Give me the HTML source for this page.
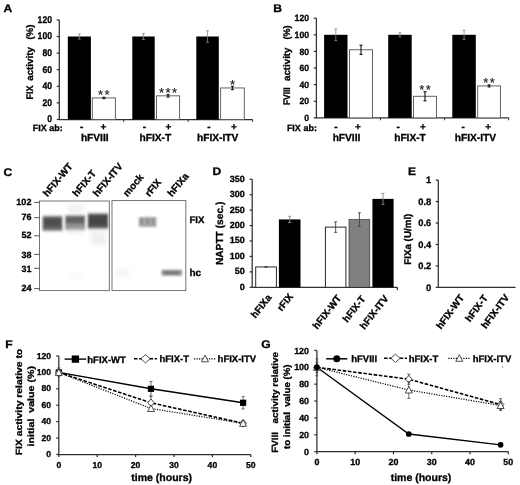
<!DOCTYPE html>
<html><head><meta charset="utf-8"><title>Figure</title>
<style>
html,body{margin:0;padding:0;background:#fff;overflow:hidden;}
svg{display:block;will-change:transform;}
text{font-family:"Liberation Sans",sans-serif;font-weight:bold;fill:#000;stroke:#000;stroke-width:0.3px;text-rendering:geometricPrecision;}
</style></head><body>
<svg width="520" height="485" viewBox="0 0 520 485">
<rect x="0" y="0" width="520" height="485" fill="#fff"/>
<text x="0" y="0" font-size="11" stroke="#000" stroke-width="0.3" transform="translate(3.6 12.1) scale(1.1 1)">A</text>
<line x1="59.3" y1="19.900000000000006" x2="59.3" y2="120.0" stroke="#303030" stroke-width="1.25" />
<line x1="59.3" y1="119.5" x2="252.6" y2="119.5" stroke="#303030" stroke-width="1.25" />
<line x1="56.699999999999996" y1="119.5" x2="59.3" y2="119.5" stroke="#303030" stroke-width="1.25" />
<text x="0" y="0" font-size="9.7" text-anchor="end" transform="translate(52 122.4) scale(0.89 1)" >0</text>
<line x1="56.699999999999996" y1="102.9" x2="59.3" y2="102.9" stroke="#303030" stroke-width="1.25" />
<text x="0" y="0" font-size="9.7" text-anchor="end" transform="translate(52 105.8) scale(0.89 1)" >20</text>
<line x1="56.699999999999996" y1="86.30000000000001" x2="59.3" y2="86.30000000000001" stroke="#303030" stroke-width="1.25" />
<text x="0" y="0" font-size="9.7" text-anchor="end" transform="translate(52 89.2) scale(0.89 1)" >40</text>
<line x1="56.699999999999996" y1="69.7" x2="59.3" y2="69.7" stroke="#303030" stroke-width="1.25" />
<text x="0" y="0" font-size="9.7" text-anchor="end" transform="translate(52 72.6) scale(0.89 1)" >60</text>
<line x1="56.699999999999996" y1="53.10000000000001" x2="59.3" y2="53.10000000000001" stroke="#303030" stroke-width="1.25" />
<text x="0" y="0" font-size="9.7" text-anchor="end" transform="translate(52 56.0) scale(0.89 1)" >80</text>
<line x1="56.699999999999996" y1="36.5" x2="59.3" y2="36.5" stroke="#303030" stroke-width="1.25" />
<text x="0" y="0" font-size="9.7" text-anchor="end" transform="translate(52 39.4) scale(0.89 1)" >100</text>
<line x1="56.699999999999996" y1="19.900000000000006" x2="59.3" y2="19.900000000000006" stroke="#303030" stroke-width="1.25" />
<text x="0" y="0" font-size="9.7" text-anchor="end" transform="translate(52 22.8) scale(0.89 1)" >120</text>
<line x1="123.73333333333333" y1="119.5" x2="123.73333333333333" y2="121.9" stroke="#303030" stroke-width="1" />
<rect x="67.80" y="36.50" width="23.10" height="83.00" fill="#000" stroke="none" stroke-width="0" />
<line x1="79.35" y1="34.010000000000005" x2="79.35" y2="38.99000000000001" stroke="#8a8a8a" stroke-width="0.8" />
<line x1="77.85" y1="34.010000000000005" x2="80.85" y2="34.010000000000005" stroke="#8a8a8a" stroke-width="0.8" />
<line x1="77.85" y1="38.99000000000001" x2="80.85" y2="38.99000000000001" stroke="#8a8a8a" stroke-width="0.8" />
<rect x="92.30" y="97.92" width="23.10" height="21.58" fill="#fff" stroke="#5c5c5c" stroke-width="0.95" />
<line x1="103.85" y1="97.256" x2="103.85" y2="98.584" stroke="#111" stroke-width="1.1" />
<line x1="102.35" y1="97.256" x2="105.35" y2="97.256" stroke="#111" stroke-width="1.1" />
<line x1="102.35" y1="98.584" x2="105.35" y2="98.584" stroke="#111" stroke-width="1.1" />
<text x="104.55" y="99.456" font-size="13" text-anchor="middle" style="font-weight:normal;fill:#222;stroke:#222;stroke-width:0.15px" letter-spacing="1.4">**</text>
<text x="81.6" y="130" font-size="10" text-anchor="middle" >-</text>
<text x="103.5" y="130" font-size="10" text-anchor="middle" >+</text>
<text x="94.75" y="140.5" font-size="10.2" text-anchor="middle" >hFVIII</text>
<line x1="188.16666666666669" y1="119.5" x2="188.16666666666669" y2="121.9" stroke="#303030" stroke-width="1" />
<rect x="132.30" y="36.50" width="22.40" height="83.00" fill="#000" stroke="none" stroke-width="0" />
<line x1="143.5" y1="33.595" x2="143.5" y2="39.405" stroke="#8a8a8a" stroke-width="0.8" />
<line x1="142.0" y1="33.595" x2="145.0" y2="33.595" stroke="#8a8a8a" stroke-width="0.8" />
<line x1="142.0" y1="39.405" x2="145.0" y2="39.405" stroke="#8a8a8a" stroke-width="0.8" />
<rect x="156.50" y="95.84" width="23.10" height="23.65" fill="#fff" stroke="#5c5c5c" stroke-width="0.95" />
<line x1="168.05" y1="94.6" x2="168.05" y2="97.09" stroke="#111" stroke-width="1.1" />
<line x1="166.55" y1="94.6" x2="169.55" y2="94.6" stroke="#111" stroke-width="1.1" />
<line x1="166.55" y1="97.09" x2="169.55" y2="97.09" stroke="#111" stroke-width="1.1" />
<text x="168.75" y="96.8" font-size="13" text-anchor="middle" style="font-weight:normal;fill:#222;stroke:#222;stroke-width:0.15px" letter-spacing="1.4">***</text>
<text x="144.3" y="130" font-size="10" text-anchor="middle" >-</text>
<text x="168.5" y="130" font-size="10" text-anchor="middle" >+</text>
<text x="155.35" y="140.5" font-size="10.2" text-anchor="middle" >hFIX-T</text>
<line x1="252.60000000000002" y1="119.5" x2="252.60000000000002" y2="121.9" stroke="#303030" stroke-width="1" />
<rect x="196.30" y="36.50" width="22.50" height="83.00" fill="#000" stroke="none" stroke-width="0" />
<line x1="207.55" y1="30.689999999999998" x2="207.55" y2="42.31" stroke="#8a8a8a" stroke-width="0.8" />
<line x1="206.05" y1="30.689999999999998" x2="209.05" y2="30.689999999999998" stroke="#8a8a8a" stroke-width="0.8" />
<line x1="206.05" y1="42.31" x2="209.05" y2="42.31" stroke="#8a8a8a" stroke-width="0.8" />
<rect x="220.60" y="87.96" width="23.70" height="31.54" fill="#fff" stroke="#5c5c5c" stroke-width="0.95" />
<line x1="232.45" y1="86.30000000000001" x2="232.45" y2="89.62" stroke="#111" stroke-width="1.1" />
<line x1="230.95" y1="86.30000000000001" x2="233.95" y2="86.30000000000001" stroke="#111" stroke-width="1.1" />
<line x1="230.95" y1="89.62" x2="233.95" y2="89.62" stroke="#111" stroke-width="1.1" />
<text x="233.14999999999998" y="88.50000000000001" font-size="13" text-anchor="middle" style="font-weight:normal;fill:#222;stroke:#222;stroke-width:0.15px" letter-spacing="1.4">*</text>
<text x="208.9" y="130" font-size="10" text-anchor="middle" >-</text>
<text x="233.8" y="130" font-size="10" text-anchor="middle" >+</text>
<text x="217.7" y="140.5" font-size="10.2" text-anchor="middle" >hFIX-ITV</text>
<text x="62.7" y="130.8" font-size="9" text-anchor="end" >FIX ab:</text>
<text x="33.4" y="99.4" font-size="9.6" text-anchor="start" transform="rotate(-90 33.4 99.4)" textLength="14.0" lengthAdjust="spacingAndGlyphs" >FIX</text>
<text x="33.4" y="80.8" font-size="9.6" text-anchor="start" transform="rotate(-90 33.4 80.8)" textLength="33.8" lengthAdjust="spacingAndGlyphs" >activity</text>
<text x="33.4" y="39.6" font-size="9.6" text-anchor="start" transform="rotate(-90 33.4 39.6)" textLength="15.0" lengthAdjust="spacingAndGlyphs" >(%)</text>
<text x="0" y="0" font-size="11" stroke="#000" stroke-width="0.3" transform="translate(273.3 11.9) scale(1.1 1)">B</text>
<line x1="316.4" y1="18.180000000000007" x2="316.4" y2="118.4" stroke="#303030" stroke-width="1.25" />
<line x1="316.4" y1="117.9" x2="508.7" y2="117.9" stroke="#303030" stroke-width="1.25" />
<line x1="313.79999999999995" y1="117.9" x2="316.4" y2="117.9" stroke="#303030" stroke-width="1.25" />
<text x="0" y="0" font-size="9.1" text-anchor="end" transform="translate(309 121.0) scale(0.95 1)" >0</text>
<line x1="313.79999999999995" y1="101.28" x2="316.4" y2="101.28" stroke="#303030" stroke-width="1.25" />
<text x="0" y="0" font-size="9.1" text-anchor="end" transform="translate(309 104.38) scale(0.95 1)" >20</text>
<line x1="313.79999999999995" y1="84.66000000000001" x2="316.4" y2="84.66000000000001" stroke="#303030" stroke-width="1.25" />
<text x="0" y="0" font-size="9.1" text-anchor="end" transform="translate(309 87.76) scale(0.95 1)" >40</text>
<line x1="313.79999999999995" y1="68.04" x2="316.4" y2="68.04" stroke="#303030" stroke-width="1.25" />
<text x="0" y="0" font-size="9.1" text-anchor="end" transform="translate(309 71.14) scale(0.95 1)" >60</text>
<line x1="313.79999999999995" y1="51.420000000000016" x2="316.4" y2="51.420000000000016" stroke="#303030" stroke-width="1.25" />
<text x="0" y="0" font-size="9.1" text-anchor="end" transform="translate(309 54.52) scale(0.95 1)" >80</text>
<line x1="313.79999999999995" y1="34.80000000000001" x2="316.4" y2="34.80000000000001" stroke="#303030" stroke-width="1.25" />
<text x="0" y="0" font-size="9.1" text-anchor="end" transform="translate(309 37.9) scale(0.95 1)" >100</text>
<line x1="313.79999999999995" y1="18.180000000000007" x2="316.4" y2="18.180000000000007" stroke="#303030" stroke-width="1.25" />
<text x="0" y="0" font-size="9.1" text-anchor="end" transform="translate(309 21.28) scale(0.95 1)" >120</text>
<line x1="380.5" y1="117.9" x2="380.5" y2="120.30000000000001" stroke="#303030" stroke-width="1" />
<rect x="324.10" y="34.80" width="23.40" height="83.10" fill="#000" stroke="none" stroke-width="0" />
<line x1="335.8" y1="28.983000000000004" x2="335.8" y2="40.617000000000004" stroke="#8a8a8a" stroke-width="0.8" />
<line x1="334.3" y1="28.983000000000004" x2="337.3" y2="28.983000000000004" stroke="#8a8a8a" stroke-width="0.8" />
<line x1="334.3" y1="40.617000000000004" x2="337.3" y2="40.617000000000004" stroke="#8a8a8a" stroke-width="0.8" />
<rect x="349.50" y="49.76" width="23.00" height="68.14" fill="#fff" stroke="#5c5c5c" stroke-width="0.95" />
<line x1="361.0" y1="45.187500000000014" x2="361.0" y2="54.328500000000005" stroke="#111" stroke-width="1.1" />
<line x1="359.5" y1="45.187500000000014" x2="362.5" y2="45.187500000000014" stroke="#111" stroke-width="1.1" />
<line x1="359.5" y1="54.328500000000005" x2="362.5" y2="54.328500000000005" stroke="#111" stroke-width="1.1" />
<text x="335.8" y="130" font-size="10" text-anchor="middle" >-</text>
<text x="357.8" y="130" font-size="10" text-anchor="middle" >+</text>
<text x="346.5" y="140.5" font-size="10.2" text-anchor="middle" >hFVIII</text>
<line x1="444.6" y1="117.9" x2="444.6" y2="120.30000000000001" stroke="#303030" stroke-width="1" />
<rect x="388.20" y="34.80" width="23.50" height="83.10" fill="#000" stroke="none" stroke-width="0" />
<line x1="399.95" y1="32.72250000000001" x2="399.95" y2="36.87750000000001" stroke="#8a8a8a" stroke-width="0.8" />
<line x1="398.45" y1="32.72250000000001" x2="401.45" y2="32.72250000000001" stroke="#8a8a8a" stroke-width="0.8" />
<line x1="398.45" y1="36.87750000000001" x2="401.45" y2="36.87750000000001" stroke="#8a8a8a" stroke-width="0.8" />
<rect x="413.50" y="96.29" width="23.00" height="21.61" fill="#fff" stroke="#5c5c5c" stroke-width="0.95" />
<line x1="425.0" y1="91.7235" x2="425.0" y2="100.8645" stroke="#111" stroke-width="1.1" />
<line x1="423.5" y1="91.7235" x2="426.5" y2="91.7235" stroke="#111" stroke-width="1.1" />
<line x1="423.5" y1="100.8645" x2="426.5" y2="100.8645" stroke="#111" stroke-width="1.1" />
<text x="425.7" y="93.9235" font-size="13" text-anchor="middle" style="font-weight:normal;fill:#222;stroke:#222;stroke-width:0.15px" letter-spacing="1.4">**</text>
<text x="398.1" y="130" font-size="10" text-anchor="middle" >-</text>
<text x="422.8" y="130" font-size="10" text-anchor="middle" >+</text>
<text x="410" y="140.5" font-size="10.2" text-anchor="middle" >hFIX-T</text>
<line x1="508.70000000000005" y1="117.9" x2="508.70000000000005" y2="120.30000000000001" stroke="#303030" stroke-width="1" />
<rect x="452.30" y="34.80" width="23.50" height="83.10" fill="#000" stroke="none" stroke-width="0" />
<line x1="464.05" y1="30.229500000000016" x2="464.05" y2="39.37050000000001" stroke="#8a8a8a" stroke-width="0.8" />
<line x1="462.55" y1="30.229500000000016" x2="465.55" y2="30.229500000000016" stroke="#8a8a8a" stroke-width="0.8" />
<line x1="462.55" y1="39.37050000000001" x2="465.55" y2="39.37050000000001" stroke="#8a8a8a" stroke-width="0.8" />
<rect x="477.70" y="85.91" width="22.70" height="31.99" fill="#fff" stroke="#5c5c5c" stroke-width="0.95" />
<line x1="489.04999999999995" y1="84.9093" x2="489.04999999999995" y2="86.90370000000001" stroke="#111" stroke-width="1.1" />
<line x1="487.54999999999995" y1="84.9093" x2="490.54999999999995" y2="84.9093" stroke="#111" stroke-width="1.1" />
<line x1="487.54999999999995" y1="86.90370000000001" x2="490.54999999999995" y2="86.90370000000001" stroke="#111" stroke-width="1.1" />
<text x="489.74999999999994" y="87.1093" font-size="13" text-anchor="middle" style="font-weight:normal;fill:#222;stroke:#222;stroke-width:0.15px" letter-spacing="1.4">**</text>
<text x="463.2" y="130" font-size="10" text-anchor="middle" >-</text>
<text x="488.1" y="130" font-size="10" text-anchor="middle" >+</text>
<text x="475.4" y="140.5" font-size="10.2" text-anchor="middle" >hFIX-ITV</text>
<text x="316.9" y="130.8" font-size="9" text-anchor="end" >FIX ab:</text>
<text x="289.6" y="105" font-size="9.6" text-anchor="start" transform="rotate(-90 289.6 105)" textLength="17.6" lengthAdjust="spacingAndGlyphs" >FVIII</text>
<text x="289.6" y="81" font-size="9.6" text-anchor="start" transform="rotate(-90 289.6 81)" textLength="33.5" lengthAdjust="spacingAndGlyphs" >activity</text>
<text x="289.6" y="39.4" font-size="9.6" text-anchor="start" transform="rotate(-90 289.6 39.4)" textLength="14.0" lengthAdjust="spacingAndGlyphs" >(%)</text>
<text x="0" y="0" font-size="11" stroke="#000" stroke-width="0.3" transform="translate(3.6 175.7) scale(1.1 1)">C</text>
<defs><filter id="b1" x="-30%" y="-50%" width="160%" height="200%"><feGaussianBlur stdDeviation="1.3 1.4"/></filter><filter id="b2" x="-30%" y="-50%" width="160%" height="200%"><feGaussianBlur stdDeviation="1.2 1.1"/></filter><filter id="b3" x="-30%" y="-50%" width="160%" height="200%"><feGaussianBlur stdDeviation="2.5"/></filter></defs>
<rect x="39.50" y="201.00" width="69.80" height="89.60" fill="#fff" stroke="#666" stroke-width="0.9" />
<rect x="112.00" y="200.60" width="73.80" height="90.00" fill="#fff" stroke="#666" stroke-width="0.9" />
<g filter="url(#b1)">
<rect x="42.60" y="216.20" width="19.80" height="14.40" fill="#666" stroke="none" stroke-width="0" />
<rect x="44.00" y="217.60" width="17.00" height="9.00" fill="#444" stroke="none" stroke-width="0" opacity="0.65"/>
<rect x="65.20" y="215.40" width="19.80" height="14.40" fill="#939393" stroke="none" stroke-width="0" />
<rect x="65.80" y="216.00" width="18.80" height="7.40" fill="#555" stroke="none" stroke-width="0" opacity="0.8"/>
<rect x="87.80" y="213.60" width="20.40" height="15.00" fill="#5a5a5a" stroke="none" stroke-width="0" />
<rect x="89.40" y="215.20" width="17.60" height="10.00" fill="#3a3a3a" stroke="none" stroke-width="0" opacity="0.7"/>
</g>
<g filter="url(#b2)">
<rect x="138.80" y="217.00" width="17.60" height="10.00" fill="#aaa" stroke="none" stroke-width="0" />
<rect x="140.00" y="218.50" width="3.00" height="6.00" fill="#8c8c8c" stroke="none" stroke-width="0" />
<rect x="146.00" y="218.50" width="3.00" height="6.00" fill="#8c8c8c" stroke="none" stroke-width="0" />
<rect x="152.00" y="218.50" width="2.50" height="6.00" fill="#8c8c8c" stroke="none" stroke-width="0" />
<rect x="161.60" y="269.80" width="20.40" height="5.80" fill="#919191" stroke="none" stroke-width="0" />
<rect x="164.00" y="271.40" width="15.00" height="3.20" fill="#6e6e6e" stroke="none" stroke-width="0" opacity="0.7"/>
</g>
<g filter="url(#b3)" opacity="0.42">
<rect x="91.00" y="231.00" width="15.00" height="14.00" fill="#d8d8d8" stroke="none" stroke-width="0" />
<rect x="68.00" y="204.00" width="15.00" height="9.00" fill="#dcdcdc" stroke="none" stroke-width="0" />
<rect x="67.00" y="229.00" width="16.00" height="4.00" fill="#d0d0d0" stroke="none" stroke-width="0" />
<rect x="115.00" y="270.00" width="14.00" height="6.00" fill="#e0e0e0" stroke="none" stroke-width="0" />
<rect x="68.00" y="274.00" width="14.00" height="3.00" fill="#e6e6e6" stroke="none" stroke-width="0" />
</g>
<text x="0" y="0" font-size="9" text-anchor="end" transform="translate(31.4 205.4) scale(1.0 1)" >102</text>
<line x1="34.2" y1="202.4" x2="39.5" y2="202.4" stroke="#555" stroke-width="1" />
<text x="0" y="0" font-size="9" text-anchor="end" transform="translate(31.4 219.6) scale(1.0 1)" >76</text>
<line x1="34.2" y1="217.7" x2="39.5" y2="217.7" stroke="#555" stroke-width="1" />
<text x="0" y="0" font-size="9" text-anchor="end" transform="translate(31.4 237.9) scale(1.0 1)" >52</text>
<line x1="34.2" y1="235.8" x2="39.5" y2="235.8" stroke="#555" stroke-width="1" />
<text x="0" y="0" font-size="9" text-anchor="end" transform="translate(31.4 257.6) scale(1.0 1)" >38</text>
<line x1="34.2" y1="254.4" x2="39.5" y2="254.4" stroke="#555" stroke-width="1" />
<text x="0" y="0" font-size="9" text-anchor="end" transform="translate(31.4 272.2) scale(1.0 1)" >31</text>
<line x1="34.2" y1="268.3" x2="39.5" y2="268.3" stroke="#555" stroke-width="1" />
<text x="0" y="0" font-size="9" text-anchor="end" transform="translate(31.4 291.1) scale(1.0 1)" >24</text>
<line x1="34.2" y1="288.6" x2="39.5" y2="288.6" stroke="#555" stroke-width="1" />
<text x="47.5" y="197.2" font-size="9.9" text-anchor="start" transform="rotate(-50 47.5 197.2)" >hFIX-WT</text>
<text x="77" y="197.2" font-size="9.9" text-anchor="start" transform="rotate(-50 77 197.2)" >hFIX-T</text>
<text x="97.5" y="197.2" font-size="9.9" text-anchor="start" transform="rotate(-50 97.5 197.2)" >hFIX-ITV</text>
<text x="127.5" y="197.2" font-size="9.9" text-anchor="start" transform="rotate(-50 127.5 197.2)" >mock</text>
<text x="149.5" y="197.2" font-size="9.9" text-anchor="start" transform="rotate(-50 149.5 197.2)" >rFIX</text>
<text x="172" y="197.2" font-size="9.9" text-anchor="start" transform="rotate(-50 172 197.2)" >hFIXa</text>
<text x="189.4" y="222.8" font-size="9.6" text-anchor="start" >FIX</text>
<text x="189.4" y="276.2" font-size="10" text-anchor="start" >hc</text>
<text x="0" y="0" font-size="11" stroke="#000" stroke-width="0.3" transform="translate(212.6 174.5) scale(1.1 1)">D</text>
<line x1="252.2" y1="179.3" x2="252.2" y2="287.3" stroke="#303030" stroke-width="1.25" />
<line x1="252.2" y1="287.3" x2="397.3" y2="287.3" stroke="#303030" stroke-width="1.25" />
<line x1="249.6" y1="287.3" x2="252.2" y2="287.3" stroke="#303030" stroke-width="1.25" />
<text x="0" y="0" font-size="9.0" text-anchor="end" transform="translate(244.8 289.7) scale(1.0 1)" >0</text>
<line x1="249.6" y1="271.87142857142857" x2="252.2" y2="271.87142857142857" stroke="#303030" stroke-width="1.25" />
<text x="0" y="0" font-size="9.0" text-anchor="end" transform="translate(244.8 274.27) scale(1.0 1)" >50</text>
<line x1="249.6" y1="256.4428571428572" x2="252.2" y2="256.4428571428572" stroke="#303030" stroke-width="1.25" />
<text x="0" y="0" font-size="9.0" text-anchor="end" transform="translate(244.8 258.84) scale(1.0 1)" >100</text>
<line x1="249.6" y1="241.01428571428573" x2="252.2" y2="241.01428571428573" stroke="#303030" stroke-width="1.25" />
<text x="0" y="0" font-size="9.0" text-anchor="end" transform="translate(244.8 243.41) scale(1.0 1)" >150</text>
<line x1="249.6" y1="225.5857142857143" x2="252.2" y2="225.5857142857143" stroke="#303030" stroke-width="1.25" />
<text x="0" y="0" font-size="9.0" text-anchor="end" transform="translate(244.8 227.99) scale(1.0 1)" >200</text>
<line x1="249.6" y1="210.15714285714287" x2="252.2" y2="210.15714285714287" stroke="#303030" stroke-width="1.25" />
<text x="0" y="0" font-size="9.0" text-anchor="end" transform="translate(244.8 212.56) scale(1.0 1)" >250</text>
<line x1="249.6" y1="194.72857142857146" x2="252.2" y2="194.72857142857146" stroke="#303030" stroke-width="1.25" />
<text x="0" y="0" font-size="9.0" text-anchor="end" transform="translate(244.8 197.13) scale(1.0 1)" >300</text>
<line x1="249.6" y1="179.3" x2="252.2" y2="179.3" stroke="#303030" stroke-width="1.25" />
<text x="0" y="0" font-size="9.0" text-anchor="end" transform="translate(244.8 181.7) scale(1.0 1)" >350</text>
<line x1="397.3" y1="287.3" x2="397.3" y2="290.3" stroke="#303030" stroke-width="1.25" />
<rect x="255.70" y="266.93" width="20.70" height="20.37" fill="#fff" stroke="#2a2a2a" stroke-width="1" />
<line x1="266.05" y1="266.6257142857143" x2="266.05" y2="267.24285714285713" stroke="#444" stroke-width="0.9" />
<line x1="264.55" y1="266.6257142857143" x2="267.55" y2="266.6257142857143" stroke="#444" stroke-width="0.9" />
<line x1="264.55" y1="267.24285714285713" x2="267.55" y2="267.24285714285713" stroke="#444" stroke-width="0.9" />
<text x="272" y="297.8" font-size="9.8" text-anchor="end" transform="rotate(-52 272 297.8)" >hFIXa</text>
<rect x="278.90" y="219.41" width="21.60" height="67.89" fill="#000" stroke="none" stroke-width="0" />
<line x1="289.7" y1="216.32857142857145" x2="289.7" y2="222.5" stroke="#8a8a8a" stroke-width="0.9" />
<line x1="288.2" y1="216.32857142857145" x2="291.2" y2="216.32857142857145" stroke="#8a8a8a" stroke-width="0.9" />
<line x1="288.2" y1="222.5" x2="291.2" y2="222.5" stroke="#8a8a8a" stroke-width="0.9" />
<text x="293.5" y="296.8" font-size="9.8" text-anchor="end" transform="rotate(-52 293.5 296.8)" >rFIX</text>
<rect x="325.40" y="227.13" width="20.50" height="60.17" fill="#fff" stroke="#2a2a2a" stroke-width="1" />
<line x1="335.65" y1="221.88285714285718" x2="335.65" y2="232.37428571428572" stroke="#444" stroke-width="0.9" />
<line x1="334.15" y1="221.88285714285718" x2="337.15" y2="221.88285714285718" stroke="#444" stroke-width="0.9" />
<line x1="334.15" y1="232.37428571428572" x2="337.15" y2="232.37428571428572" stroke="#444" stroke-width="0.9" />
<text x="341.8" y="298.4" font-size="9.8" text-anchor="end" transform="rotate(-52 341.8 298.4)" >hFIX-WT</text>
<rect x="349.00" y="219.57" width="20.80" height="67.73" fill="#808080" stroke="#222" stroke-width="0.6" />
<line x1="359.4" y1="212.78000000000003" x2="359.4" y2="226.3571428571429" stroke="#444" stroke-width="0.9" />
<line x1="357.9" y1="212.78000000000003" x2="360.9" y2="212.78000000000003" stroke="#444" stroke-width="0.9" />
<line x1="357.9" y1="226.3571428571429" x2="360.9" y2="226.3571428571429" stroke="#444" stroke-width="0.9" />
<text x="366" y="299" font-size="9.8" text-anchor="end" transform="rotate(-52 366 299)" >hFIX-T</text>
<rect x="372.40" y="198.89" width="21.20" height="88.41" fill="#000" stroke="none" stroke-width="0" />
<line x1="383.0" y1="193.34000000000003" x2="383.0" y2="204.44857142857143" stroke="#8a8a8a" stroke-width="0.9" />
<line x1="381.5" y1="193.34000000000003" x2="384.5" y2="193.34000000000003" stroke="#8a8a8a" stroke-width="0.9" />
<line x1="381.5" y1="204.44857142857143" x2="384.5" y2="204.44857142857143" stroke="#8a8a8a" stroke-width="0.9" />
<text x="389" y="298.6" font-size="9.8" text-anchor="end" transform="rotate(-52 389 298.6)" >hFIX-ITV</text>
<text x="223.4" y="233.4" font-size="10.2" text-anchor="middle" transform="rotate(-90 223.4 233.4)" >NAPTT (sec.)</text>
<text x="0" y="0" font-size="11" stroke="#000" stroke-width="0.3" transform="translate(408 175.1) scale(1.1 1)">E</text>
<line x1="438.3" y1="180.09999999999997" x2="438.3" y2="287.4" stroke="#303030" stroke-width="1.25" />
<line x1="438.3" y1="287.4" x2="515.6" y2="287.4" stroke="#303030" stroke-width="1.25" />
<line x1="435.7" y1="287.4" x2="438.3" y2="287.4" stroke="#303030" stroke-width="1.25" />
<text x="0" y="0" font-size="9.3" text-anchor="end" transform="translate(431.2 290.5) scale(1.0 1)" >0</text>
<line x1="435.7" y1="265.94" x2="438.3" y2="265.94" stroke="#303030" stroke-width="1.25" />
<text x="0" y="0" font-size="9.3" text-anchor="end" transform="translate(431.2 269.04) scale(1.0 1)" >0.2</text>
<line x1="435.7" y1="244.47999999999996" x2="438.3" y2="244.47999999999996" stroke="#303030" stroke-width="1.25" />
<text x="0" y="0" font-size="9.3" text-anchor="end" transform="translate(431.2 247.58) scale(1.0 1)" >0.4</text>
<line x1="435.7" y1="223.01999999999998" x2="438.3" y2="223.01999999999998" stroke="#303030" stroke-width="1.25" />
<text x="0" y="0" font-size="9.3" text-anchor="end" transform="translate(431.2 226.12) scale(1.0 1)" >0.6</text>
<line x1="435.7" y1="201.55999999999997" x2="438.3" y2="201.55999999999997" stroke="#303030" stroke-width="1.25" />
<text x="0" y="0" font-size="9.3" text-anchor="end" transform="translate(431.2 204.66) scale(1.0 1)" >0.8</text>
<line x1="435.7" y1="180.09999999999997" x2="438.3" y2="180.09999999999997" stroke="#303030" stroke-width="1.25" />
<text x="0" y="0" font-size="9.3" text-anchor="end" transform="translate(431.2 183.2) scale(1.0 1)" >1</text>
<text x="464.6" y="297.8" font-size="9.8" text-anchor="end" transform="rotate(-53.5 464.6 297.8)" >hFIX-WT</text>
<text x="488.2" y="298" font-size="9.8" text-anchor="end" transform="rotate(-53.5 488.2 298)" >hFIX-T</text>
<text x="509.6" y="297.4" font-size="9.8" text-anchor="end" transform="rotate(-53.5 509.6 297.4)" >hFIX-ITV</text>
<text x="411.4" y="239.2" font-size="9.8" text-anchor="middle" transform="rotate(-90 411.4 239.2)" >FIXa (U/ml)</text>
<text x="0" y="0" font-size="11" stroke="#000" stroke-width="0.3" transform="translate(5.2 348.0) scale(1.1 1)">F</text>
<line x1="58.8" y1="355.98" x2="58.8" y2="454.5" stroke="#303030" stroke-width="1.25" />
<line x1="58.8" y1="454.5" x2="250.8" y2="454.5" stroke="#303030" stroke-width="1.25" />
<line x1="56.199999999999996" y1="454.5" x2="58.8" y2="454.5" stroke="#303030" stroke-width="1.25" />
<text x="0" y="0" font-size="8.6" text-anchor="end" transform="translate(51 457.1) scale(1.0 1)" >0</text>
<line x1="56.199999999999996" y1="438.08" x2="58.8" y2="438.08" stroke="#303030" stroke-width="1.25" />
<text x="0" y="0" font-size="8.6" text-anchor="end" transform="translate(51 440.68) scale(1.0 1)" >20</text>
<line x1="56.199999999999996" y1="421.66" x2="58.8" y2="421.66" stroke="#303030" stroke-width="1.25" />
<text x="0" y="0" font-size="8.6" text-anchor="end" transform="translate(51 424.26) scale(1.0 1)" >40</text>
<line x1="56.199999999999996" y1="405.24" x2="58.8" y2="405.24" stroke="#303030" stroke-width="1.25" />
<text x="0" y="0" font-size="8.6" text-anchor="end" transform="translate(51 407.84) scale(1.0 1)" >60</text>
<line x1="56.199999999999996" y1="388.82" x2="58.8" y2="388.82" stroke="#303030" stroke-width="1.25" />
<text x="0" y="0" font-size="8.6" text-anchor="end" transform="translate(51 391.42) scale(1.0 1)" >80</text>
<line x1="56.199999999999996" y1="372.4" x2="58.8" y2="372.4" stroke="#303030" stroke-width="1.25" />
<text x="0" y="0" font-size="8.6" text-anchor="end" transform="translate(51 375.0) scale(1.0 1)" >100</text>
<line x1="56.199999999999996" y1="355.98" x2="58.8" y2="355.98" stroke="#303030" stroke-width="1.25" />
<text x="0" y="0" font-size="8.6" text-anchor="end" transform="translate(51 358.58) scale(1.0 1)" >120</text>
<line x1="58.8" y1="454.5" x2="58.8" y2="457.1" stroke="#303030" stroke-width="1.25" />
<text x="0" y="0" font-size="8.6" text-anchor="middle" transform="translate(58.8 468) scale(1.0 1)" >0</text>
<line x1="97.19999999999999" y1="454.5" x2="97.19999999999999" y2="457.1" stroke="#303030" stroke-width="1.25" />
<text x="0" y="0" font-size="8.6" text-anchor="middle" transform="translate(97.19999999999999 468) scale(1.0 1)" >10</text>
<line x1="135.6" y1="454.5" x2="135.6" y2="457.1" stroke="#303030" stroke-width="1.25" />
<text x="0" y="0" font-size="8.6" text-anchor="middle" transform="translate(135.6 468) scale(1.0 1)" >20</text>
<line x1="174.0" y1="454.5" x2="174.0" y2="457.1" stroke="#303030" stroke-width="1.25" />
<text x="0" y="0" font-size="8.6" text-anchor="middle" transform="translate(174.0 468) scale(1.0 1)" >30</text>
<line x1="212.39999999999998" y1="454.5" x2="212.39999999999998" y2="457.1" stroke="#303030" stroke-width="1.25" />
<text x="0" y="0" font-size="8.6" text-anchor="middle" transform="translate(212.39999999999998 468) scale(1.0 1)" >40</text>
<line x1="250.8" y1="454.5" x2="250.8" y2="457.1" stroke="#303030" stroke-width="1.25" />
<text x="0" y="0" font-size="8.6" text-anchor="middle" transform="translate(250.8 468) scale(1.0 1)" >50</text>
<text x="161.7" y="481.3" font-size="10.5" text-anchor="middle" >time (hours)</text>
<polyline points="58.8,372.4 151.0,388.8 243.1,402.8" fill="none" stroke="#000" stroke-width="1.4" />
<polyline points="58.8,372.4 151.0,402.8 243.1,423.3" fill="none" stroke="#000" stroke-width="1.6" stroke-dasharray="3.6 1.6"/>
<polyline points="58.8,372.4 151.0,408.5 243.1,423.3" fill="none" stroke="#000" stroke-width="1.2" stroke-dasharray="1.2 1.3"/>
<line x1="58.8" y1="367.96659999999997" x2="58.8" y2="376.8334" stroke="#444" stroke-width="0.8" />
<line x1="57.3" y1="367.96659999999997" x2="60.3" y2="367.96659999999997" stroke="#444" stroke-width="0.8" />
<line x1="57.3" y1="376.8334" x2="60.3" y2="376.8334" stroke="#444" stroke-width="0.8" />
<rect x="55.70" y="369.30" width="6.2" height="6.2" fill="#000"/>
<line x1="150.95999999999998" y1="381.431" x2="150.95999999999998" y2="396.209" stroke="#444" stroke-width="0.8" />
<line x1="149.45999999999998" y1="381.431" x2="152.45999999999998" y2="381.431" stroke="#444" stroke-width="0.8" />
<line x1="149.45999999999998" y1="396.209" x2="152.45999999999998" y2="396.209" stroke="#444" stroke-width="0.8" />
<rect x="147.86" y="385.72" width="6.2" height="6.2" fill="#000"/>
<line x1="243.12" y1="396.61949999999996" x2="243.12" y2="408.9345" stroke="#444" stroke-width="0.8" />
<line x1="241.62" y1="396.61949999999996" x2="244.62" y2="396.61949999999996" stroke="#444" stroke-width="0.8" />
<line x1="241.62" y1="408.9345" x2="244.62" y2="408.9345" stroke="#444" stroke-width="0.8" />
<rect x="240.02" y="399.68" width="6.2" height="6.2" fill="#000"/>
<path d="M55.5,372.4 L58.8,368.6 L62.1,372.4 L58.8,376.2 Z" fill="#fff" stroke="#222" stroke-width="0.8"/>
<line x1="150.95999999999998" y1="396.209" x2="150.95999999999998" y2="409.34499999999997" stroke="#444" stroke-width="0.8" />
<line x1="149.45999999999998" y1="396.209" x2="152.45999999999998" y2="396.209" stroke="#444" stroke-width="0.8" />
<line x1="149.45999999999998" y1="409.34499999999997" x2="152.45999999999998" y2="409.34499999999997" stroke="#444" stroke-width="0.8" />
<path d="M147.7,402.8 L151.0,399.0 L154.3,402.8 L151.0,406.6 Z" fill="#fff" stroke="#222" stroke-width="0.8"/>
<line x1="243.12" y1="420.839" x2="243.12" y2="425.76500000000004" stroke="#444" stroke-width="0.8" />
<line x1="241.62" y1="420.839" x2="244.62" y2="420.839" stroke="#444" stroke-width="0.8" />
<line x1="241.62" y1="425.76500000000004" x2="244.62" y2="425.76500000000004" stroke="#444" stroke-width="0.8" />
<path d="M239.8,423.3 L243.1,419.5 L246.4,423.3 L243.1,427.1 Z" fill="#fff" stroke="#222" stroke-width="0.8"/>
<path d="M55.3,375.4 L58.8,368.8 L62.3,375.4 Z" fill="#fff" stroke="#222" stroke-width="0.8"/>
<path d="M147.5,411.5 L151.0,404.9 L154.5,411.5 Z" fill="#fff" stroke="#222" stroke-width="0.8"/>
<path d="M239.6,426.3 L243.1,419.7 L246.6,426.3 Z" fill="#fff" stroke="#222" stroke-width="0.8"/>
<line x1="64.6" y1="359.1" x2="86.2" y2="359.1" stroke="#000" stroke-width="1.4" />
<rect x="71.75" y="355.45" width="7.3" height="7.3" fill="#000"/>
<text x="87.3" y="362.70000000000005" font-size="9.5" text-anchor="start" >hFIX-WT</text>
<line x1="134" y1="358.8" x2="157" y2="358.8" stroke="#000" stroke-width="1.6" stroke-dasharray="3.6 1.6"/>
<path d="M140.8,358.8 L145.5,354.7 L150.2,358.8 L145.5,362.9 Z" fill="#fff" stroke="#222" stroke-width="0.8"/>
<text x="159.5" y="362.40000000000003" font-size="9.5" text-anchor="start" >hFIX-T</text>
<line x1="194" y1="358.8" x2="216" y2="358.8" stroke="#000" stroke-width="1.2" stroke-dasharray="1.2 1.3"/>
<path d="M201.5,361.8 L205.0,355.2 L208.5,361.8 Z" fill="#fff" stroke="#222" stroke-width="0.8"/>
<text x="217.6" y="362.40000000000003" font-size="9.5" text-anchor="start" >hFIX-ITV</text>
<text x="21.9" y="455.2" font-size="9.0" text-anchor="start" transform="rotate(-90 21.9 455.2)" textLength="106.4" lengthAdjust="spacingAndGlyphs" >FIX activity relative to</text>
<text x="33.8" y="446.4" font-size="9.0" text-anchor="start" transform="rotate(-90 33.8 446.4)" textLength="80.4" lengthAdjust="spacingAndGlyphs" xml:space="preserve">initial  value (%)</text>
<text x="0" y="0" font-size="11" stroke="#000" stroke-width="0.3" transform="translate(261.3 347.9) scale(1.1 1)">G</text>
<line x1="316.9" y1="350.41999999999996" x2="316.9" y2="451.7" stroke="#303030" stroke-width="1.25" />
<line x1="316.9" y1="451.7" x2="508.3" y2="451.7" stroke="#303030" stroke-width="1.25" />
<line x1="314.29999999999995" y1="451.7" x2="316.9" y2="451.7" stroke="#303030" stroke-width="1.25" />
<text x="0" y="0" font-size="8.9" text-anchor="end" transform="translate(309 454.8) scale(1.0 1)" >0</text>
<line x1="314.29999999999995" y1="434.82" x2="316.9" y2="434.82" stroke="#303030" stroke-width="1.25" />
<text x="0" y="0" font-size="8.9" text-anchor="end" transform="translate(309 437.92) scale(1.0 1)" >20</text>
<line x1="314.29999999999995" y1="417.94" x2="316.9" y2="417.94" stroke="#303030" stroke-width="1.25" />
<text x="0" y="0" font-size="8.9" text-anchor="end" transform="translate(309 421.04) scale(1.0 1)" >40</text>
<line x1="314.29999999999995" y1="401.06" x2="316.9" y2="401.06" stroke="#303030" stroke-width="1.25" />
<text x="0" y="0" font-size="8.9" text-anchor="end" transform="translate(309 404.16) scale(1.0 1)" >60</text>
<line x1="314.29999999999995" y1="384.18" x2="316.9" y2="384.18" stroke="#303030" stroke-width="1.25" />
<text x="0" y="0" font-size="8.9" text-anchor="end" transform="translate(309 387.28) scale(1.0 1)" >80</text>
<line x1="314.29999999999995" y1="367.3" x2="316.9" y2="367.3" stroke="#303030" stroke-width="1.25" />
<text x="0" y="0" font-size="8.9" text-anchor="end" transform="translate(309 370.4) scale(1.0 1)" >100</text>
<line x1="314.29999999999995" y1="350.41999999999996" x2="316.9" y2="350.41999999999996" stroke="#303030" stroke-width="1.25" />
<text x="0" y="0" font-size="8.9" text-anchor="end" transform="translate(309 353.52) scale(1.0 1)" >120</text>
<line x1="316.9" y1="451.7" x2="316.9" y2="454.3" stroke="#303030" stroke-width="1.25" />
<text x="0" y="0" font-size="8.9" text-anchor="middle" transform="translate(316.9 465) scale(1.0 1)" >0</text>
<line x1="355.18" y1="451.7" x2="355.18" y2="454.3" stroke="#303030" stroke-width="1.25" />
<text x="0" y="0" font-size="8.9" text-anchor="middle" transform="translate(355.18 465) scale(1.0 1)" >10</text>
<line x1="393.46" y1="451.7" x2="393.46" y2="454.3" stroke="#303030" stroke-width="1.25" />
<text x="0" y="0" font-size="8.9" text-anchor="middle" transform="translate(393.46 465) scale(1.0 1)" >20</text>
<line x1="431.74" y1="451.7" x2="431.74" y2="454.3" stroke="#303030" stroke-width="1.25" />
<text x="0" y="0" font-size="8.9" text-anchor="middle" transform="translate(431.74 465) scale(1.0 1)" >30</text>
<line x1="470.02" y1="451.7" x2="470.02" y2="454.3" stroke="#303030" stroke-width="1.25" />
<text x="0" y="0" font-size="8.9" text-anchor="middle" transform="translate(470.02 465) scale(1.0 1)" >40</text>
<line x1="508.3" y1="451.7" x2="508.3" y2="454.3" stroke="#303030" stroke-width="1.25" />
<text x="0" y="0" font-size="8.9" text-anchor="middle" transform="translate(508.3 465) scale(1.0 1)" >50</text>
<text x="421" y="481.3" font-size="10.5" text-anchor="middle" >time (hours)</text>
<polyline points="316.9,367.3 408.8,379.2 500.6,404.6" fill="none" stroke="#000" stroke-width="1.6" stroke-dasharray="3.6 1.6"/>
<polyline points="316.9,367.3 408.8,390.0 500.6,405.5" fill="none" stroke="#000" stroke-width="1.2" stroke-dasharray="1.2 1.3"/>
<polyline points="316.9,367.3 408.8,434.0 500.6,444.8" fill="none" stroke="#000" stroke-width="1.35" />
<line x1="316.9" y1="358.86" x2="316.9" y2="375.74" stroke="#444" stroke-width="0.8" />
<line x1="315.4" y1="358.86" x2="318.4" y2="358.86" stroke="#444" stroke-width="0.8" />
<line x1="315.4" y1="375.74" x2="318.4" y2="375.74" stroke="#444" stroke-width="0.8" />
<path d="M313.6,367.3 L316.9,363.5 L320.2,367.3 L316.9,371.1 Z" fill="#fff" stroke="#222" stroke-width="0.8"/>
<line x1="408.772" y1="374.1364" x2="408.772" y2="384.2644" stroke="#444" stroke-width="0.8" />
<line x1="407.272" y1="374.1364" x2="410.272" y2="374.1364" stroke="#444" stroke-width="0.8" />
<line x1="407.272" y1="384.2644" x2="410.272" y2="384.2644" stroke="#444" stroke-width="0.8" />
<path d="M405.5,379.2 L408.8,375.4 L412.1,379.2 L408.8,383.0 Z" fill="#fff" stroke="#222" stroke-width="0.8"/>
<line x1="500.644" y1="398.6968" x2="500.644" y2="410.5128" stroke="#444" stroke-width="0.8" />
<line x1="499.144" y1="398.6968" x2="502.144" y2="398.6968" stroke="#444" stroke-width="0.8" />
<line x1="499.144" y1="410.5128" x2="502.144" y2="410.5128" stroke="#444" stroke-width="0.8" />
<path d="M497.3,404.6 L500.6,400.8 L503.9,404.6 L500.6,408.4 Z" fill="#fff" stroke="#222" stroke-width="0.8"/>
<line x1="316.9" y1="362.236" x2="316.9" y2="372.36400000000003" stroke="#444" stroke-width="0.8" />
<line x1="315.4" y1="362.236" x2="318.4" y2="362.236" stroke="#444" stroke-width="0.8" />
<line x1="315.4" y1="372.36400000000003" x2="318.4" y2="372.36400000000003" stroke="#444" stroke-width="0.8" />
<path d="M313.4,370.3 L316.9,363.7 L320.4,370.3 Z" fill="#fff" stroke="#222" stroke-width="0.8"/>
<line x1="408.772" y1="381.5636" x2="408.772" y2="398.4436" stroke="#444" stroke-width="0.8" />
<line x1="407.272" y1="381.5636" x2="410.272" y2="381.5636" stroke="#444" stroke-width="0.8" />
<line x1="407.272" y1="398.4436" x2="410.272" y2="398.4436" stroke="#444" stroke-width="0.8" />
<path d="M405.3,393.0 L408.8,386.4 L412.3,393.0 Z" fill="#fff" stroke="#222" stroke-width="0.8"/>
<line x1="500.644" y1="401.31319999999994" x2="500.644" y2="409.7532" stroke="#444" stroke-width="0.8" />
<line x1="499.144" y1="401.31319999999994" x2="502.144" y2="401.31319999999994" stroke="#444" stroke-width="0.8" />
<line x1="499.144" y1="409.7532" x2="502.144" y2="409.7532" stroke="#444" stroke-width="0.8" />
<path d="M497.1,408.5 L500.6,401.9 L504.1,408.5 Z" fill="#fff" stroke="#222" stroke-width="0.8"/>
<line x1="316.9" y1="364.76800000000003" x2="316.9" y2="369.832" stroke="#444" stroke-width="0.8" />
<line x1="315.4" y1="364.76800000000003" x2="318.4" y2="364.76800000000003" stroke="#444" stroke-width="0.8" />
<line x1="315.4" y1="369.832" x2="318.4" y2="369.832" stroke="#444" stroke-width="0.8" />
<circle cx="316.9" cy="367.3" r="2.85" fill="#000"/>
<circle cx="408.8" cy="434.0" r="2.85" fill="#000"/>
<circle cx="500.6" cy="444.8" r="2.85" fill="#000"/>
<line x1="326.2" y1="358.8" x2="347.3" y2="358.8" stroke="#000" stroke-width="1.5" />
<circle cx="336.8" cy="358.8" r="3.55" fill="#000"/>
<text x="351.2" y="362.40000000000003" font-size="9.5" text-anchor="start" >hFVIII</text>
<line x1="384" y1="358.3" x2="407" y2="358.3" stroke="#000" stroke-width="1.6" stroke-dasharray="3.6 1.6"/>
<path d="M390.8,358.3 L395.5,354.2 L400.2,358.3 L395.5,362.4 Z" fill="#fff" stroke="#222" stroke-width="0.8"/>
<text x="408.7" y="361.90000000000003" font-size="9.5" text-anchor="start" >hFIX-T</text>
<line x1="448.3" y1="358.3" x2="470.3" y2="358.3" stroke="#000" stroke-width="1.2" stroke-dasharray="1.2 1.3"/>
<path d="M455.8,361.3 L459.3,354.7 L462.8,361.3 Z" fill="#fff" stroke="#222" stroke-width="0.8"/>
<text x="472.7" y="361.90000000000003" font-size="9.5" text-anchor="start" >hFIX-ITV</text>
<text x="277.8" y="452.8" font-size="9.1" text-anchor="start" transform="rotate(-90 277.8 452.8)" textLength="100.8" lengthAdjust="spacingAndGlyphs" xml:space="preserve">FVIII   activity relative</text>
<text x="290.4" y="449" font-size="9.1" text-anchor="start" transform="rotate(-90 290.4 449)" textLength="84.4" lengthAdjust="spacingAndGlyphs" xml:space="preserve">to initial  value (%)</text>
<rect x="502" y="366.4" width="1" height="1" fill="#333"/>
</svg>
</body></html>
